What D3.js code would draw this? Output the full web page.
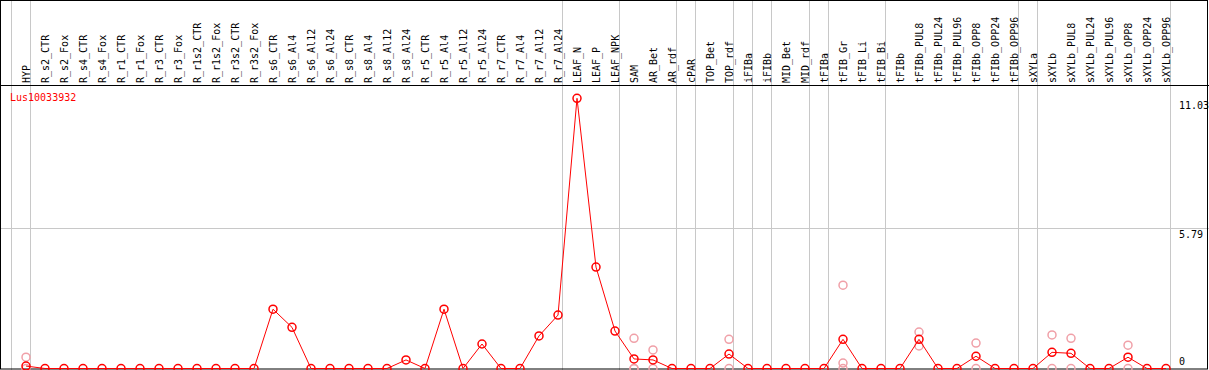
<!DOCTYPE html>
<html>
<head>
<meta charset="utf-8">
<script src="https://cdn.jsdelivr.net/npm/d3@7"></script>
<style>
  body { margin: 0; background: #fff; }
  svg text { font-family: "DejaVu Sans Mono", "Liberation Mono", monospace; font-size: 10px; }
</style>
</head>
<body>
<svg id="chart" width="1209" height="370"></svg>
<script>
// sample names (x categories)
const samples = [
  "HYP", "R_s2_CTR", "R_s2_Fox", "R_s4_CTR", "R_s4_Fox", "R_r1_CTR", "R_r1_Fox",
  "R_r3_CTR", "R_r3_Fox", "R_r1s2_CTR", "R_r1s2_Fox", "R_r3s2_CTR", "R_r3s2_Fox",
  "R_s6_CTR", "R_s6_Al4", "R_s6_Al12", "R_s6_Al24", "R_s8_CTR", "R_s8_Al4", "R_s8_Al12",
  "R_s8_Al24", "R_r5_CTR", "R_r5_Al4", "R_r5_Al12", "R_r5_Al24", "R_r7_CTR", "R_r7_Al4",
  "R_r7_Al12", "R_r7_Al24", "LEAF_N", "LEAF_P", "LEAF_NPK", "SAM", "AR_Bet", "AR_rdf",
  "cPAR", "TOP_Bet", "TOP_rdf", "iFIBa", "iFIBb", "MID_Bet", "MID_rdf", "tFIBa",
  "tFIB_Gr", "tFIB_Li", "tFIB_Bi", "tFIBb", "tFIBb_PUL8", "tFIBb_PUL24", "tFIBb_PUL96",
  "tFIBb_OPP8", "tFIBb_OPP24", "tFIBb_OPP96", "sXYLa", "sXYLb", "sXYLb_PUL8",
  "sXYLb_PUL24", "sXYLb_PUL96", "sXYLb_OPP8", "sXYLb_OPP24", "sXYLb_OPP96"
];

// mean expression per sample
const means = [
  0.1, 0, 0, 0, 0, 0, 0,
  0, 0, 0, 0, 0, 0,
  2.42, 1.68, 0, 0, 0, 0, 0,
  0.35, 0, 2.42, 0, 1.0, 0, 0,
  1.33, 2.18, 11.03, 4.14, 1.53, 0.39, 0.35, 0,
  0, 0, 0.59, 0, 0, 0, 0, 0,
  1.19, 0, 0, 0, 1.19, 0, 0,
  0.5, 0, 0, 0, 0.66, 0.62,
  0, 0, 0.46, 0, 0
];

// individual replicates [sample, value]
const replicates = [
  ["HYP", 0.46], ["HYP", 0],
  ["SAM", 1.23], ["SAM", 0], ["SAM", 0],
  ["AR_Bet", 0.76], ["AR_Bet", 0],
  ["TOP_rdf", 1.19], ["TOP_rdf", 0],
  ["tFIB_Gr", 3.4], ["tFIB_Gr", 0.22], ["tFIB_Gr", 0],
  ["tFIBb_PUL8", 1.49], ["tFIBb_PUL8", 0.92],
  ["tFIBb_OPP8", 1.04], ["tFIBb_OPP8", 0],
  ["sXYLb", 1.37], ["sXYLb", 0],
  ["sXYLb_PUL8", 1.23], ["sXYLb_PUL8", 0],
  ["sXYLb_OPP8", 0.95], ["sXYLb_OPP8", 0]
];

// last sample of each tissue group (a gray divider follows it)
const groupEnds = ["HYP", "R_r7_Al24", "LEAF_NPK", "AR_rdf", "cPAR", "TOP_rdf", "iFIBa",
  "iFIBb", "MID_rdf", "tFIBa", "tFIB_Bi", "tFIBb_OPP96", "sXYLa", "sXYLb_OPP96"];

const geneId = "Lus10033932";
const yTicks = [0, 5.79, 11.03];

const W = 1209, H = 370;
const headerBottom = 85;
const svg = d3.select("#chart");

const x = d3.scalePoint()
  .domain(samples)
  .range([26, 26 + 19 * (samples.length - 1)]);

const y = d3.scaleLinear()
  .domain([0, d3.max(yTicks)])
  .range([368.5, 98.3]);

const crisp = v => Math.round(v - 0.5) + 0.5;

// gray group dividers (one before the first column too)
const dividerX = [x("HYP") - 19 + 4.5].concat(groupEnds.map(s => x(s) + 4.5));
svg.append("g").selectAll("line")
  .data(dividerX)
  .enter().append("line")
  .attr("x1", d => crisp(d)).attr("x2", d => crisp(d))
  .attr("y1", 0).attr("y2", H)
  .attr("stroke", "#c8c8c8").attr("stroke-width", 1);

// horizontal gridline for middle tick
svg.append("line")
  .attr("x1", 0).attr("x2", W)
  .attr("y1", crisp(y(5.79) + 1.5)).attr("y2", crisp(y(5.79) + 1.5))
  .attr("stroke", "#c8c8c8");

// frame and header separator
svg.append("rect")
  .attr("x", 0.5).attr("y", 0.5)
  .attr("width", W - 2).attr("height", H - 1.5)
  .attr("fill", "none").attr("stroke", "#000");
svg.append("line")
  .attr("x1", 0).attr("x2", W)
  .attr("y1", headerBottom + 0.5).attr("y2", headerBottom + 0.5)
  .attr("stroke", "#000");

// rotated sample labels
svg.append("g").selectAll("text")
  .data(samples)
  .enter().append("text")
  .attr("transform", d => `translate(${x(d) + 4},83) rotate(-90)`)
  .attr("fill", "#000")
  .text(d => d);

// right-side value labels
svg.append("g").selectAll("text")
  .data(yTicks)
  .enter().append("text")
  .attr("x", 1179)
  .attr("y", d => d === 0 ? y(d) - 4 : y(d) + 11)
  .attr("fill", "#000")
  .text(d => d === 0 ? "0" : d3.format(".2f")(d));

// gene id
svg.append("text")
  .attr("x", 10).attr("y", 101)
  .attr("fill", "#ff0000")
  .text(geneId);

// replicate points
svg.append("g").selectAll("circle")
  .data(replicates)
  .enter().append("circle")
  .attr("cx", d => x(d[0]))
  .attr("cy", d => y(d[1]))
  .attr("r", 4)
  .attr("fill", "none")
  .attr("stroke", "#f0a0a8")
  .attr("stroke-width", 1.5);

// mean line
const line = d3.line()
  .x((d, i) => x(samples[i]))
  .y(d => y(d));

svg.append("path")
  .datum(means)
  .attr("d", line)
  .attr("fill", "none")
  .attr("stroke", "#ff0000")
  .attr("stroke-width", 1);

svg.append("g").selectAll("circle")
  .data(means)
  .enter().append("circle")
  .attr("cx", (d, i) => x(samples[i]))
  .attr("cy", d => y(d))
  .attr("r", 4)
  .attr("fill", "none")
  .attr("stroke", "#ff0000")
  .attr("stroke-width", 1.5);
</script>
</body>
</html>
